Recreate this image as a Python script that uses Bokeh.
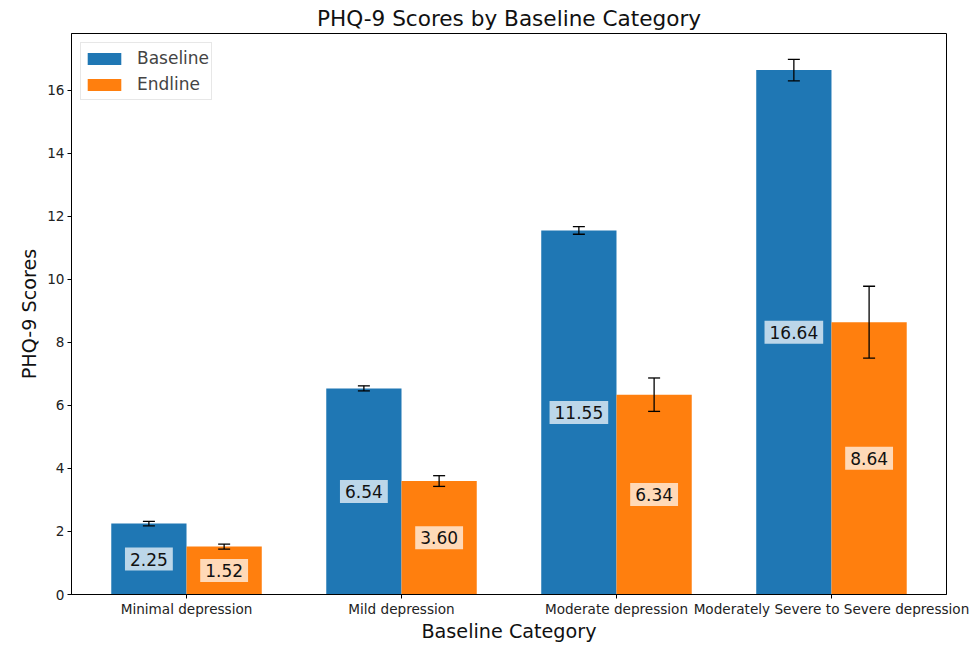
from bokeh.plotting import figure
from bokeh.models import ColumnDataSource, Whisker, FixedTicker, Range1d, TeeHead
from bokeh.core.properties import value
from bokeh.embed import file_html
from bokeh.resources import INLINE

categories = ["Minimal depression", "Mild depression", "Moderate depression",
              "Moderately Severe to Severe depression"]
baseline = [2.25, 6.54, 11.55, 16.64]
endline = [1.52, 3.60, 6.34, 8.64]
baseline_err = [0.07, 0.08, 0.12, 0.34]
endline_err = [0.08, 0.17, 0.53, 1.14]

FONT = "DejaVu Sans"
W = 0.35
idx = list(range(len(categories)))

p = figure(width=980, height=645, output_backend="svg", toolbar_location=None,
           x_range=Range1d(-0.535, 3.535), y_range=Range1d(0, 17.8),
           min_border_left=71, min_border_right=34, min_border_top=33, min_border_bottom=49)

p.title.text = "PHQ-9 Scores by Baseline Category"
p.title.align = "center"
p.title.text_font = FONT
p.title.text_font_size = "21.6px"
p.title.text_font_style = "normal"
p.title.text_color = "#111111"
p.title.standoff = 5

def src(vals, errs, shift):
    return ColumnDataSource(dict(
        x=[i + shift for i in idx], top=vals,
        upper=[v + e for v, e in zip(vals, errs)],
        lower=[v - e for v, e in zip(vals, errs)],
        mid=[v / 2 for v in vals],
        lab=["%.2f" % v for v in vals]))

sb = src(baseline, baseline_err, -W / 2)
se = src(endline, endline_err, W / 2)

p.vbar(x="x", top="top", width=W, source=sb, color="#1f77b4", line_color=None, legend_label="Baseline")
p.vbar(x="x", top="top", width=W, source=se, color="#ff7f0e", line_color=None, legend_label="Endline")

for s in (sb, se):
    p.add_layout(Whisker(source=s, base="x", upper="upper", lower="lower", level="overlay",
                         line_color="black", line_width=1.3,
                         upper_head=TeeHead(size=12, line_color="black", line_width=1.3),
                         lower_head=TeeHead(size=12, line_color="black", line_width=1.3)))
    p.text(x="x", y="mid", text="lab", source=s, text_align="center",
           text_baseline="middle", text_font=value(FONT), text_font_size="17px",
           text_color="#111111", background_fill_color="white",
           background_fill_alpha=0.7, padding=5)

p.xgrid.visible = False
p.ygrid.visible = False
p.outline_line_color = "black"
p.outline_line_width = 1

p.xaxis.ticker = FixedTicker(ticks=idx)
p.xaxis.major_label_overrides = {i: c for i, c in zip(idx, categories)}
p.yaxis.ticker = FixedTicker(ticks=[0, 2, 4, 6, 8, 10, 12, 14, 16])
for ax in (p.xaxis, p.yaxis):
    ax.major_label_text_font = FONT
    ax.major_label_text_font_size = "13.6px"
    ax.major_label_text_color = "#222222"
    ax.major_label_standoff = 3
    ax.axis_label_text_font = FONT
    ax.axis_label_text_font_size = "19.2px"
    ax.axis_label_text_font_style = "normal"
    ax.axis_label_text_color = "#111111"
    ax.minor_tick_line_color = None
    ax.major_tick_in = 0
    ax.major_tick_out = 4
    ax.axis_line_color = "black"
    ax.major_tick_line_color = "black"
p.xaxis.major_label_standoff = 2
p.xaxis.axis_label = "Baseline Category"
p.yaxis.axis_label = "PHQ-9 Scores"
p.xaxis.axis_label_standoff = 0
p.yaxis.axis_label_standoff = 3

p.legend.location = "top_left"
p.legend.label_text_font = FONT
p.legend.label_text_font_size = "17px"
p.legend.glyph_width = 42
p.legend.glyph_height = 15
p.legend.label_height = 26
p.legend.label_standoff = 12
p.legend.spacing = 0
p.legend.padding = 2
p.legend.margin = 9
p.legend.border_line_color = "#d0d0d0"

open("out.html", "w").write(file_html(p, INLINE))
